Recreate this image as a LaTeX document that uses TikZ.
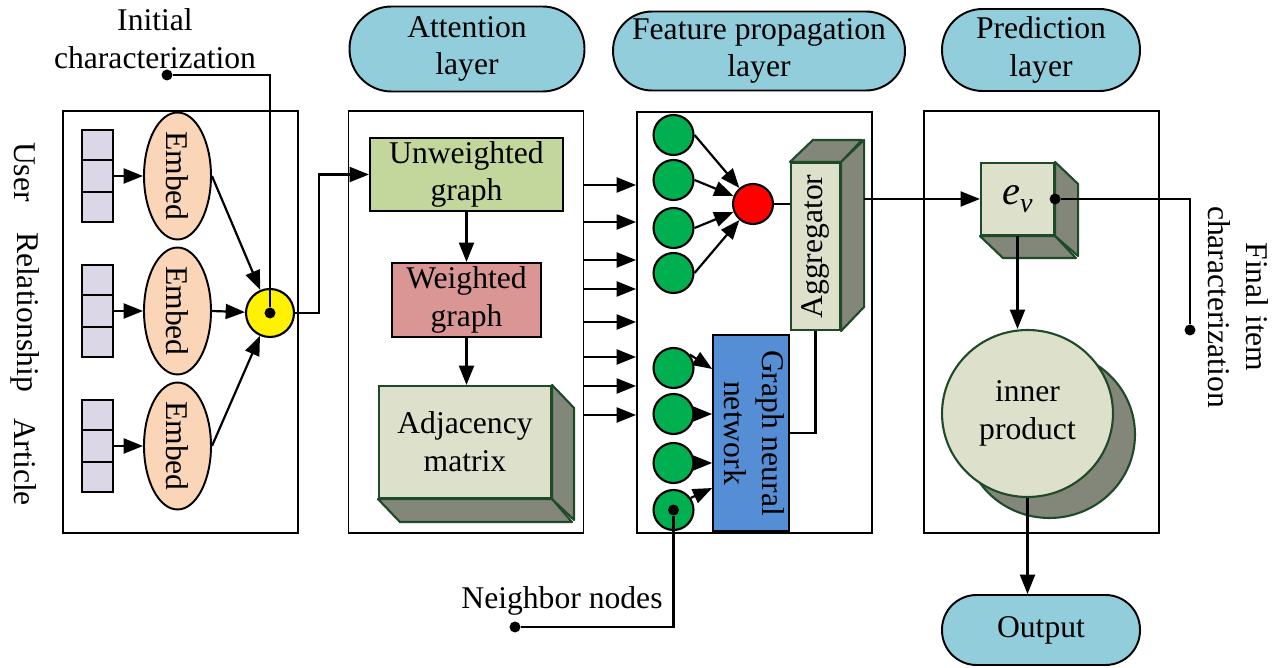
\documentclass[tikz,border=0pt]{standalone}
\usepackage{fontspec}
\setmainfont{Liberation Serif}
\usetikzlibrary{arrows.meta, calc, shapes.geometric}

\definecolor{pillblue}{HTML}{92CDDC}
\definecolor{embedfill}{HTML}{FAD5B8}
\definecolor{vecfill}{HTML}{DCD7E6}
\definecolor{unwfill}{HTML}{C3D69B}
\definecolor{wfill}{HTML}{D99694}
\definecolor{cubefront}{HTML}{DDE1CB}
\definecolor{cubeside}{HTML}{828779}
\definecolor{cubeedge}{HTML}{1F4A28}
\definecolor{nodegreen}{HTML}{00B050}
\definecolor{gnnblue}{HTML}{558ED5}

\begin{document}
\begin{tikzpicture}[
    x=0.02cm, y=-0.02cm,
    font=\fontsize{18pt}{21.5pt}\selectfont,
    panel/.style={rectangle, draw, line width=1.1pt, minimum width=4.7cm, minimum height=8.44cm},
    layer/.style={rectangle, draw, line width=1.1pt, fill=pillblue, align=center, inner sep=0pt},
    embed/.style={ellipse, draw, line width=1.1pt, fill=embedfill, minimum width=1.34cm, minimum height=2.54cm, inner sep=0pt},
    vector/.style={rectangle, draw, line width=1.1pt, fill=vecfill, minimum width=0.62cm, minimum height=1.84cm, inner sep=0pt},
    block/.style={rectangle, draw, line width=1.2pt, align=center, inner sep=0pt},
    cube/.style={rectangle, draw=cubeedge, line width=1.2pt, fill=cubefront, align=center, inner sep=0pt},
    face/.style={draw=cubeedge, line width=1.2pt, fill=cubeside, line join=round},
    gnode/.style={circle, draw, line width=1.2pt, fill=nodegreen, minimum size=0.8cm, inner sep=0pt},
    dot/.style={circle, fill=black, minimum size=0.22cm, inner sep=0pt},
    line/.style={-{Triangle[length=11pt,width=8.5pt]}, line width=1.25pt},
    wire/.style={line width=1.25pt}
  ]
    \useasboundingbox (0,0) rectangle (1275,668);

    \node[panel] (inputs) at (180.5,322) {};
    \node[panel] (attn) at (466,322) {};
    \node[panel] (feat) at (754.5,322.5) {};
    \node[panel] (pred) at (1041.5,322) {};

    \node[layer, rounded corners=0.84cm, minimum width=4.7cm, minimum height=1.7cm] (attnlayer) at (467,49) {Attention\\layer};
    \node[layer, rounded corners=0.78cm, minimum width=5.84cm, minimum height=1.58cm] (featlayer) at (759,51) {Feature propagation\\layer};
    \node[layer, rounded corners=0.81cm, minimum width=3.96cm, minimum height=1.64cm] (predlayer) at (1041,50) {Prediction\\layer};
    \node[layer, rounded corners=0.69cm, minimum width=3.96cm, minimum height=1.4cm] (output) at (1041,630) {Output};

    \node[rotate=-90] (user) at (25,172) {User};
    \node[rotate=-90] (relation) at (25,312) {Relationship};
    \node[rotate=-90] (article) at (25,462) {Article};

    \node[circle, draw, line width=1.2pt, fill=yellow, minimum size=0.96cm, inner sep=0pt] (fuse) at (270,313) {};
    \foreach \i/\y in {1/176, 2/311, 3/446} {
      \node[vector] (vec\i) at (97.5,\y) {};
      \draw[wire] ($(vec\i.north west)!1/3!(vec\i.south west)$) -- ($(vec\i.north east)!1/3!(vec\i.south east)$);
      \draw[wire] ($(vec\i.north west)!2/3!(vec\i.south west)$) -- ($(vec\i.north east)!2/3!(vec\i.south east)$);
      \node[embed] (emb\i) at (177.5,\y) {\rotatebox{-90}{Embed}};
      \draw[line] (vec\i) -- (emb\i);
      \draw[line] (emb\i.east) -- (fuse);
    }

    \node[align=center] (initial) at (155,39) {Initial\\characterization};
    \node[dot] (initdot) at (167,75) {};
    \node[dot] (fusedot) at (fuse) {};
    \draw[wire] (initdot) -| (fusedot);

    \node[block, fill=unwfill, minimum width=3.86cm, minimum height=1.46cm] (unw) at (466.5,174.5) {Unweighted\\graph};
    \node[block, fill=wfill, minimum width=2.98cm, minimum height=1.48cm] (wgt) at (466.5,300) {Weighted\\graph};
    \node[cube, minimum width=3.44cm, minimum height=2.24cm] (adj) at (465,442) {Adjacency\\matrix};
    \draw[face] (adj.north east) -- ++(22,23) -- ++(0,112) -- (adj.south east) -- cycle;
    \draw[face] (adj.south west) -- ++(22,23) -- ++(172,0) -- (adj.south east) -- cycle;

    \draw[line] (fuse.east) -- ++(24,0) |- (unw.west);
    \draw[line] (unw.south) -- (unw.south |- wgt.north);
    \draw[line] (wgt.south) -- (wgt.south |- adj.north);

    \foreach \y in {185,222,260,289,322,357,386,415}
      \draw[line] (attn.east |- 0,\y) -- (feat.west |- 0,\y);

    \foreach \i/\y in {1/135,2/180,3/228,4/273,5/368,6/414,7/463,8/510}
      \node[gnode] (g\i) at (673.5,\y) {};
    \node[gnode, fill=red] (agghub) at (753,204) {};
    \foreach \i in {1,...,4}
      \draw[line] (g\i.east) -- (agghub);

    \node[cube, minimum width=0.98cm, minimum height=3.34cm] (agg) at (815.5,246.5) {\rotatebox{90}{Aggregator}};
    \draw[face] (agg.north west) -- ++(23,-22) -- ++(49,0) -- (agg.north east) -- cycle;
    \draw[face] (agg.north east) -- ++(23,-22) -- ++(0,167) -- (agg.south east) -- cycle;
    \coordinate (aggback) at ($(agg.north east)+(23,-22)$);
    \draw[wire] (agghub) -- (agghub -| agg.west);

    \node[block, fill=gnnblue, minimum width=1.36cm, minimum height=3.92cm] (gnn) at (751,433) {\rotatebox{-90}{\begin{tabular}{@{}c@{}}Graph neural\\network\end{tabular}}};
    \draw[line] (g5.40) -- ($(gnn.north west)+(0,35)$);
    \draw[line] (g6) -- (g6 -| gnn.west);
    \draw[line] (g7) -- (g7 -| gnn.west);
    \draw[line] (g8.35) -- ($(gnn.south west)+(0,-44)$);
    \draw[wire] (gnn.east) -| (agg.south);

    \node[dot] (g8dot) at (g8) {};
    \node (neighbor) at (562,601) {Neighbor nodes};
    \node[dot] (nbdot) at (515,627) {};
    \draw[wire] (g8dot) |- (nbdot);

    \node[cube, minimum width=1.46cm, minimum height=1.44cm] (ev) at (1017.5,199) {\fontsize{23pt}{23pt}\selectfont\textit{e}\raisebox{-0.4ex}{\fontsize{16pt}{16pt}\selectfont\textit{v}}};
    \draw[face] (ev.north east) -- ++(23,22) -- ++(0,72) -- (ev.south east) -- cycle;
    \draw[face] (ev.south west) -- ++(23,22) -- ++(73,0) -- (ev.south east) -- cycle;
    \draw[line] (aggback |- ev.west) -- (ev.west);

    \node[dot] (evdot) at (ev.east) {};
    \node[dot] (findot) at (1190,330) {};
    \draw[wire] (evdot) -| (findot);
    \node[rotate=-90, align=center] (final) at (1238,307) {Final item\\characterization};

    \node[ellipse, face, minimum width=3.42cm, minimum height=3.34cm, inner sep=0pt] (innershadow) at (1049.5,434.5) {};
    \node[ellipse, draw=cubeedge, line width=1.2pt, fill=cubefront, minimum width=3.42cm, minimum height=3.34cm, inner sep=0pt, align=center] (inner) at (1027.5,413.5) {inner\\product};
    \draw[line] (ev.south) -- (ev.south |- inner.north);
    \draw[line] (inner.south) -- (inner.south |- output.north);
  \end{tikzpicture}
\end{document}
